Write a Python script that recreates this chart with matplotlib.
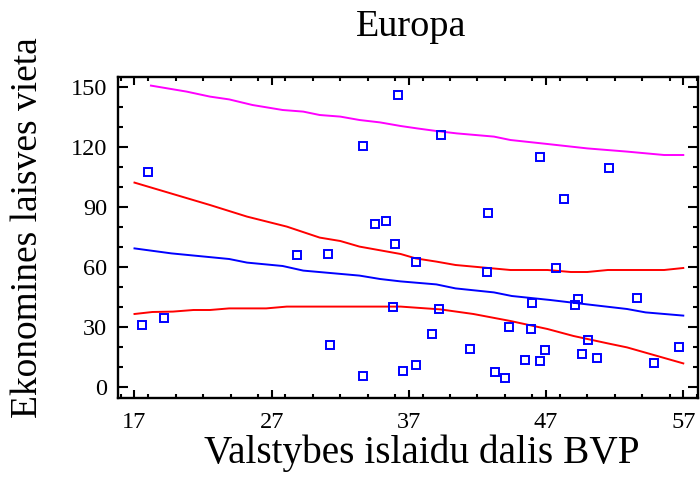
import matplotlib
matplotlib.use("Agg")
import matplotlib.pyplot as plt
from matplotlib.ticker import MultipleLocator

plt.rcParams["font.family"] = ["Liberation Serif", "DejaVu Serif"]

# observed points
gdp_share = [17.97, 33.68, 36.2, 34.55, 35.33, 36.0, 28.86, 31.12,
             39.33, 46.58, 51.6, 48.28, 42.8, 37.5, 47.75, 42.7,
             17.53, 19.14, 31.22, 33.65, 35.87, 36.55,
             37.5, 38.72, 39.23, 41.47, 43.25, 44.03, 44.3, 45.49, 45.9, 46.0,
             46.58, 46.95, 49.09, 49.36, 49.63, 50.04, 50.7, 53.62, 54.84, 56.69]
freedom_rank = [107.6, 120.5, 146, 81.3, 83.2, 71.3, 65.8, 66.7,
                126, 115, 109.5, 94, 86.8, 62.3, 59.3, 57.3,
                31, 34.7, 21, 5.5, 40.2, 8.2,
                10.8, 26.5, 39.2, 19.2, 7.3, 4.7, 30, 13.7, 29.2, 42,
                12.8, 18.3, 41, 43.8, 16.3, 23.7, 14.7, 44.7, 11.8, 20]

# fitted line
fit_x = [17, 19.7, 23.9, 25.2, 27.8, 29.3, 33.4, 34.9, 36.4, 39.0, 40.4, 43.2,
         44.5, 47.3, 50.0, 52.9, 54.25, 57]
fit_y = [69.3, 66.8, 64.0, 62.2, 60.5, 58.2, 55.7, 54.0, 52.8, 51.3, 49.3, 47.3,
         45.5, 43.5, 41.3, 39.0, 37.3, 35.7]

# confidence limits
conf_hi_x = [17, 22.5, 25.2, 28.1, 30.5, 32.0, 33.4, 36.4, 37.5, 39.0, 40.4, 44.4,
             47.1, 48.8, 50.0, 51.5, 55.6, 57]
conf_hi_y = [102.2, 91, 85.2, 80.2, 74.7, 73, 70.2, 66.5, 64.3, 62.7, 61, 58.5,
             58.5, 57.5, 57.5, 58.5, 58.5, 59.5]
conf_lo_x = [17, 18.3, 19.8, 21.3, 22.5, 23.9, 26.6, 28.1, 36.4, 39.3, 41.7, 44.4,
             47.1, 49.0, 51.5, 52.9, 57]
conf_lo_y = [36.5, 37.5, 37.7, 38.5, 38.5, 39.3, 39.3, 40.2, 40.2, 38.8, 36.5, 33,
             29, 25.5, 21.8, 19.8, 11.8]

# upper prediction limit
pred_hi_x = [18.2, 20.8, 22.5, 23.9, 25.6, 27.8, 29.3, 30.5, 32.0, 33.4, 34.9, 36.4,
             37.6, 39.0, 40.5, 43.2, 44.4, 47.1, 50.0, 52.9, 55.6, 57]
pred_hi_y = [150.7, 147.7, 145.2, 143.8, 141, 138.5, 137.7, 136, 135.2, 133.5, 132.3,
             130.5, 129.3, 128, 126.8, 125.2, 123.5, 121.5, 119.3, 117.7, 116, 116]

fig = plt.figure(figsize=(7, 4.84), dpi=100)
ax = fig.add_axes([0.1686, 0.1777, 0.8281, 0.6632])

ax.plot(pred_hi_x, pred_hi_y, color="#ff00ff", lw=1.4)
ax.plot(conf_hi_x, conf_hi_y, color="#ff0000", lw=1.4)
ax.plot(conf_lo_x, conf_lo_y, color="#ff0000", lw=1.4)
ax.plot(fit_x, fit_y, color="#0000ff", lw=1.4)
ax.plot(gdp_share, freedom_rank, ls="none", marker="s", ms=5.3,
        mfc="none", mec="#0000ff", mew=1.4)

ax.set_xlim(15.8, 58.05)
ax.set_ylim(-5.5, 155)
ax.set_xticks([17, 27, 37, 47, 57])
ax.xaxis.set_minor_locator(MultipleLocator(2))
ax.set_yticks([0, 30, 60, 90, 120, 150])
ax.yaxis.set_minor_locator(MultipleLocator(10))

for s in ax.spines.values():
    s.set_linewidth(1.7)
ax.tick_params(axis="both", which="both", direction="in", top=True, right=True,
               width=1.5, labelsize=17.5)
ax.tick_params(axis="x", which="major", length=5.5, pad=10)
ax.tick_params(axis="x", which="minor", length=2.8)
ax.tick_params(axis="y", which="major", length=7.5, pad=8)
ax.tick_params(axis="y", which="minor", length=3.8)

fig.text(410.7 / 700, 1 - 36 / 484, "Europa", fontsize=27.5,
         ha="center", va="baseline")
fig.text(421.5 / 700, 1 - 463 / 484, "Valstybes islaidu dalis BVP", fontsize=28.3,
         ha="center", va="baseline")
fig.text(37 / 700, 1 - 227.5 / 484, "Ekonomines laisves vieta", fontsize=27,
         ha="center", va="baseline", rotation=90, rotation_mode="anchor")

fig.savefig("out.png", dpi=100)
